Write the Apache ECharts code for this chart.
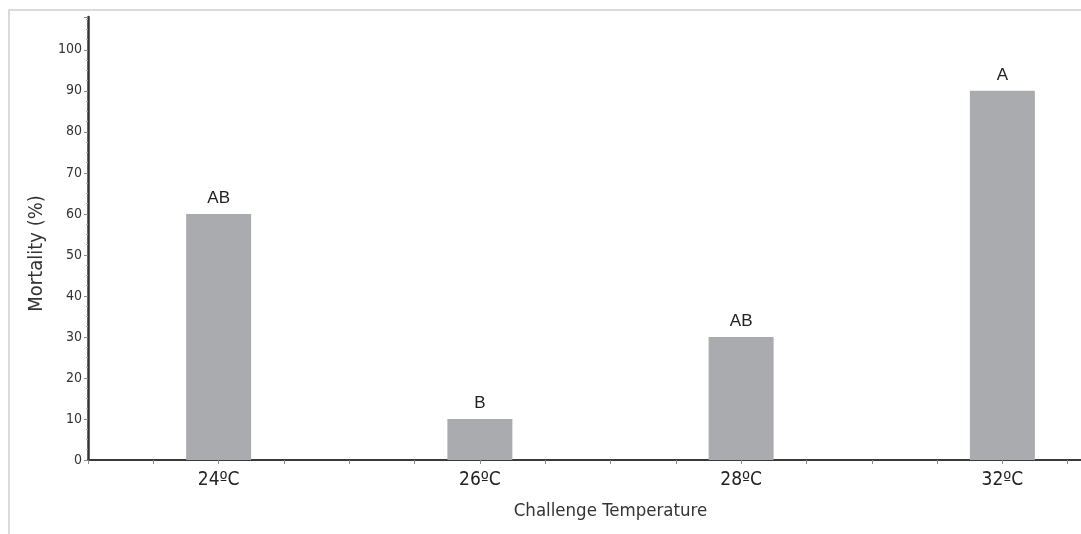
<!DOCTYPE html>
<html>
<head>
<meta charset="utf-8">
<script src="https://cdn.jsdelivr.net/npm/echarts@6/dist/echarts.min.js"></script>
<style>
  html, body { margin: 0; padding: 0; background: #fff; overflow: hidden; }
  /* the original plot runs past the right edge of the picture, so the canvas is wider than the window */
  #chart { width: 1136px; height: 534px; }
</style>
</head>
<body>
<div id="chart"></div>
<script>
const categories = ['24ºC', '26ºC', '28ºC', '32ºC']
const mortality = [60, 10, 30, 90]
const letters = ['AB', 'B', 'AB', 'A']

const font = "'DejaVu Sans Condensed', 'DejaVu Sans', sans-serif"

// bars sit in the middle of each category slot on a value axis (so we get the quarter ticks)
const barData = categories.map((c, i) => [i + 0.5, mortality[i]])

const chart = echarts.init(document.getElementById('chart'))

chart.setOption({
  animation: false,
  backgroundColor: '#fff',
  grid: {
    left: 88,
    top: 17,
    bottom: 74,
    right: 0,
  },
  graphic: [
    {
      type: 'polyline',
      shape: { points: [[9, 534], [9, 10], [1136, 10]] },
      style: { stroke: '#cfcfcf', lineWidth: 1.5, fill: null },
      silent: true,
    },
  ],
  xAxis: {
    type: 'value',
    min: 0,
    max: 4,
    interval: 0.25,
    name: 'Challenge Temperature',
    nameLocation: 'middle',
    nameGap: 42,
    nameTextStyle: { fontFamily: font, fontSize: 18.5, color: '#333' },
    splitLine: { show: false },
    axisLine: { lineStyle: { color: '#3a3a3a', width: 2 } },
    axisTick: { show: true, length: 4, lineStyle: { color: '#888' } },
    axisLabel: {
      margin: 11,
      fontFamily: font,
      fontSize: 19,
      color: '#222',
      formatter: (v) => {
        const i = Math.floor(v)
        return v - i === 0.5 ? categories[i] : ''
      },
    },
  },
  yAxis: {
    type: 'value',
    min: 0,
    max: 108,
    interval: 10,
    name: 'Mortality (%)',
    nameLocation: 'middle',
    nameGap: 34,
    nameTextStyle: { fontFamily: font, fontSize: 20, color: '#333', padding: [0, 30, 0, 0] },
    splitLine: { show: false },
    axisLine: { show: true, lineStyle: { color: '#333', width: 2.5 } },
    axisTick: {
      show: true,
      length: 4,
      lineStyle: { color: '#888' },
      interval: (i, v) => Number(v) % 10 === 0,
    },
    minorTick: { show: true, splitNumber: 4, length: 2, lineStyle: { color: '#aaa' } },
    axisLabel: {
      margin: 6,
      fontFamily: font,
      fontSize: 14,
      color: '#333',
      showMaxLabel: false,
    },
  },
  series: [
    {
      type: 'bar',
      data: barData,
      barWidth: 65,
      itemStyle: { color: '#aaabaf' },
      label: {
        show: true,
        position: 'top',
        distance: 7,
        fontFamily: "'Liberation Sans', Arial, sans-serif",
        fontSize: 17,
        color: '#222',
        formatter: (p) => letters[p.dataIndex],
      },
    },
  ],
})
</script>
</body>
</html>
